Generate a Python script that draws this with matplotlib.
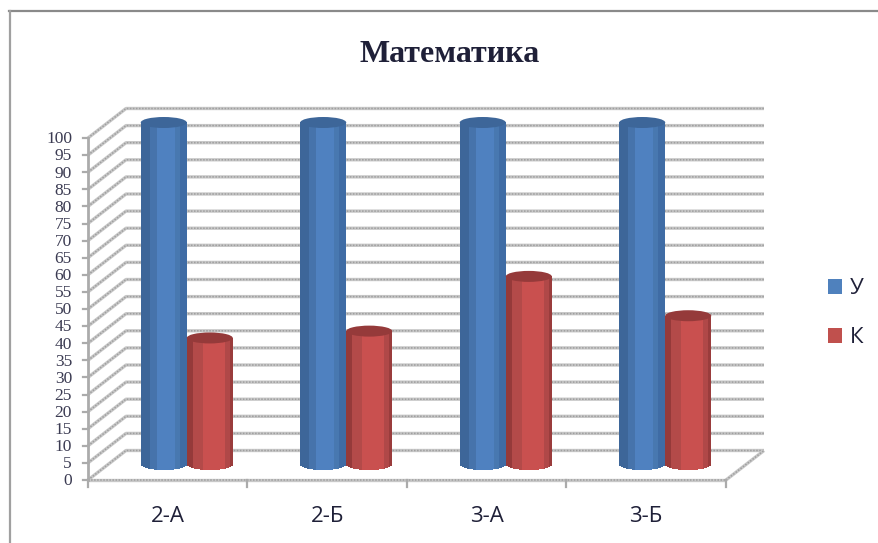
import numpy as np
import matplotlib
matplotlib.use("Agg")
import matplotlib.pyplot as plt
from matplotlib.patches import Patch, Ellipse
from matplotlib.transforms import Affine2D

categories = ["2-А", "2-Б", "3-А", "3-Б"]
series_names = ["У", "К"]
values_u = [100, 100, 100, 100]
values_k = [37, 39, 55, 43.5]
y_ticks = list(range(0, 101, 5))

W, H = 879, 543
fig = plt.figure(figsize=(W / 100, H / 100), dpi=100, facecolor="white")
L, R, T, B = 88, 726, 138, 480
ax = fig.add_axes([L / W, 1 - B / H, (R - L) / W, (B - T) / H])
ax.set_xlim(0, 4)
ax.set_ylim(0, 100)
ax.patch.set_visible(False)
for s in ax.spines.values():
    s.set_visible(False)

px_x = 4 / (R - L)
px_y = 100 / (B - T)
depth_x, depth_y = 38 * px_x, 29.5 * px_y
GRID = "#ababab"

def gline(xs, ys, z=1):
    ax.plot(xs, ys, color="#c8c8c8", lw=2.4, clip_on=False, zorder=z, solid_capstyle="butt")
    ax.plot(xs, ys, color="#9f9f9f", lw=1.1, clip_on=False, zorder=z, ls=(0, (1, 1)))

# walls and floor
for v in y_ticks:
    gline([0, depth_x, 4 + depth_x], [v, v + depth_y, v + depth_y])
    ax.plot([-5 * px_x, 0], [v, v], color=GRID, lw=1.6, clip_on=False, zorder=1)
gline([0, 4], [0, 0], z=2)
gline([4, 4 + depth_x], [0, depth_y], z=2)
ax.plot([0, 0], [0, 100], color=GRID, lw=2, clip_on=False, zorder=2)
for i in range(5):
    ax.plot([i, i], [0, -7 * px_y], color=GRID, lw=1.6, clip_on=False, zorder=2)

# cylinders
shift = Affine2D().translate(19, 15.5)
tr = ax.transData + shift
bar_w = 46 * px_x
ell_h = 11 * px_y
edges_u = np.array([0, .185, .34, .73, .84, 1.0])
edges_k = np.array([0, .13, .35, .82, .93, 1.0])
blues = ["#3d6699", "#4673ab", "#4f81c0", "#4878b0", "#3f6ca5"]
reds = ["#953a3a", "#b34a49", "#c9504f", "#b04848", "#9a3c3c"]
top_blue, top_red = "#3d6699", "#953a3a"

def cylinder(center, value, colors, edges, top, z):
    left = center - bar_w / 2
    sub = np.linspace(0, 1, 47)
    for a, b in zip(sub[:-1], sub[1:]):
        m = (a + b) / 2
        idx = min(np.searchsorted(edges, m, side="right") - 1, 4)
        drop = (ell_h / 2) * np.sqrt(max(0, 1 - (2 * m - 1) ** 2))
        ax.bar(left + m * bar_w, value + drop, width=(b - a) * bar_w * 1.05,
               bottom=-drop, color=colors[idx], transform=tr, zorder=z,
               clip_on=False, linewidth=0)
    ax.add_patch(Ellipse((center, value), bar_w, ell_h, facecolor=top, edgecolor="none",
                         transform=tr, zorder=z + 0.1, clip_on=False))

for i, (u, k) in enumerate(zip(values_u, values_k)):
    c = i + 0.5
    cylinder(c - bar_w / 2, u, blues, edges_u, top_blue, 3)
    cylinder(c + bar_w / 2, k, reds, edges_k, top_red, 4)

# tick labels
ax.set_xticks([])
ax.set_yticks([])
TXT = "#3b3b52"
for v in y_ticks:
    ax.text(-16 * px_x, v - 0.4, str(v), ha="right", va="center",
            family="Liberation Serif", fontsize=12.5, color=TXT, clip_on=False)
for i, cat in enumerate(categories):
    ax.text(i + 0.5, -37 * px_y, cat, ha="center", va="center",
            family="Open Sans", fontsize=16, color="#1f2038", clip_on=False)

fig.text(449.5 / W, 1 - 54 / H, "Математика", ha="center", va="center",
         family="Liberation Serif", weight="bold", fontsize=23, color="#1f2038")

# legend
handles = [Patch(facecolor="#4f81bd", label=series_names[0]),
           Patch(facecolor="#c0504d", label=series_names[1])]
fig.legend(handles=handles, loc="upper left", bbox_to_anchor=(828 / W, 1 - 278 / H),
           frameon=False, prop={"family": "Open Sans", "size": 16},
           labelcolor="#1f2038", handlelength=0.65, handleheight=0.65,
           labelspacing=1.27, handletextpad=0.35, borderaxespad=0, borderpad=0)

# frame around the chart
fig.add_artist(plt.Line2D([8.5 / W, 1], [1 - 11 / H, 1 - 11 / H], color="#8a8a8a", lw=1.6))
fig.add_artist(plt.Line2D([9.5 / W, 9.5 / W], [0, 1 - 11 / H], color="#a0a0a0", lw=1.6))

fig.savefig("out.png", dpi=100)
